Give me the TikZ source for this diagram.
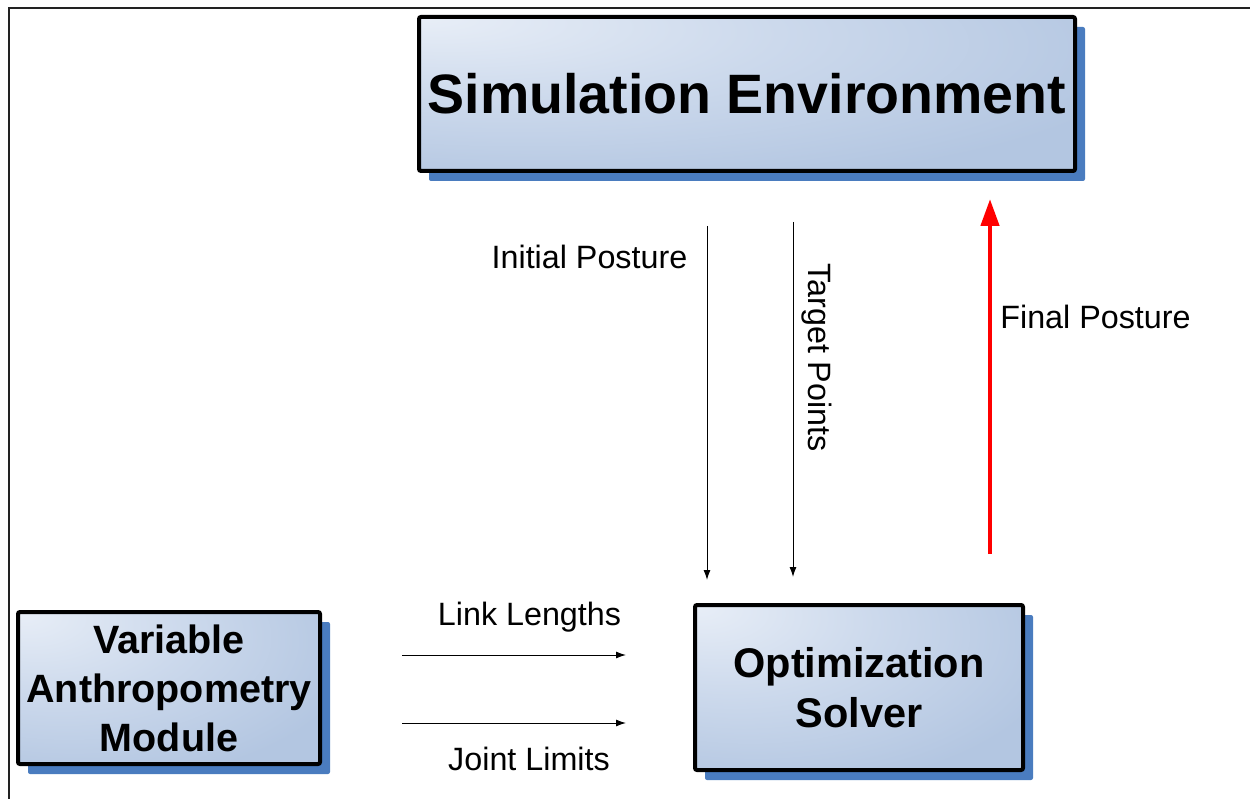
\documentclass[tikz,border=0pt]{standalone}
\usepackage{fontspec}
\setmainfont{Liberation Sans}
\usetikzlibrary{shadows,arrows.meta}
\definecolor{shadowblue}{HTML}{4A7CBF}
\definecolor{boxlight}{HTML}{E8EEF7}
\definecolor{boxmid}{HTML}{CCD9EC}
\definecolor{boxdark}{HTML}{B3C6E1}
\definecolor{framegray}{HTML}{222222}
\pgfdeclareradialshading{cornerglow}{\pgfpoint{-25bp}{25bp}}{color(0bp)=(boxlight); color(22bp)=(boxmid); color(45bp)=(boxdark); color(100bp)=(boxdark)}
\begin{document}
\begin{tikzpicture}[x=1pt,y=-1pt,
  module/.style={draw=black, line width=4pt, rounded corners=2pt,
    shade, shading=cornerglow,
    align=center, inner sep=0pt,
    font=\bfseries\fontsize{39.5}{49}\selectfont,
    drop shadow={shadow xshift=10pt, shadow yshift=-10pt, fill=shadowblue, opacity=1}},
  lbl/.style={font=\fontsize{32.3}{36}\selectfont, inner sep=0pt, anchor=base},
  thinarrow/.style={line width=1pt, -{Latex[length=10pt,width=7pt]}},
  redarrow/.style={line width=4.5pt, red, -{Triangle[length=27pt,width=18pt]}},
]
\useasboundingbox (0,0) rectangle (1250,799);
\draw[framegray, line width=1.3pt] (9,799) -- (9,8) -- (1250,8);

\node[module, minimum width=656pt, minimum height=154pt,
  font=\bfseries\fontsize{55.5}{60}\selectfont] (sim) at (747,94) {Simulation Environment};
\node[module, minimum width=302pt, minimum height=152pt] (vam) at (169,688) {Variable\\Anthropometry\\Module};
\node[module, minimum width=328pt, minimum height=165pt,
  font=\bfseries\fontsize{41.5}{50}\selectfont] (opt) at (859,687.5) {Optimization\\Solver};

\coordinate (ipa) at (707,226);
\coordinate (ipb) at (707,580);
\coordinate (tpa) at (793,222);
\coordinate (tpb) at (793,577);
\coordinate (fpa) at (990,554);
\coordinate (fpb) at (990,199);
\coordinate (lla) at (402,655);
\coordinate (llb) at (626,655);
\coordinate (jla) at (402,723);
\coordinate (jlb) at (626,723);

\draw[thinarrow] (ipa) -- (ipb);
\draw[thinarrow] (tpa) -- (tpb);
\draw[redarrow] (fpa) -- (fpb);
\draw[thinarrow] (lla) -- (llb);
\draw[thinarrow] (jla) -- (jlb);

\node[lbl] (lip) at (589.5,269) {Initial Posture};
\node[lbl, rotate=-90] (ltp) at (808,357.5) {Target Points};
\node[lbl] (lfp) at (1095.5,329) {Final Posture};
\node[lbl] (lll) at (529.5,625) {Link Lengths};
\node[lbl] (ljl) at (529,770) {Joint Limits};
\end{tikzpicture}
\end{document}
